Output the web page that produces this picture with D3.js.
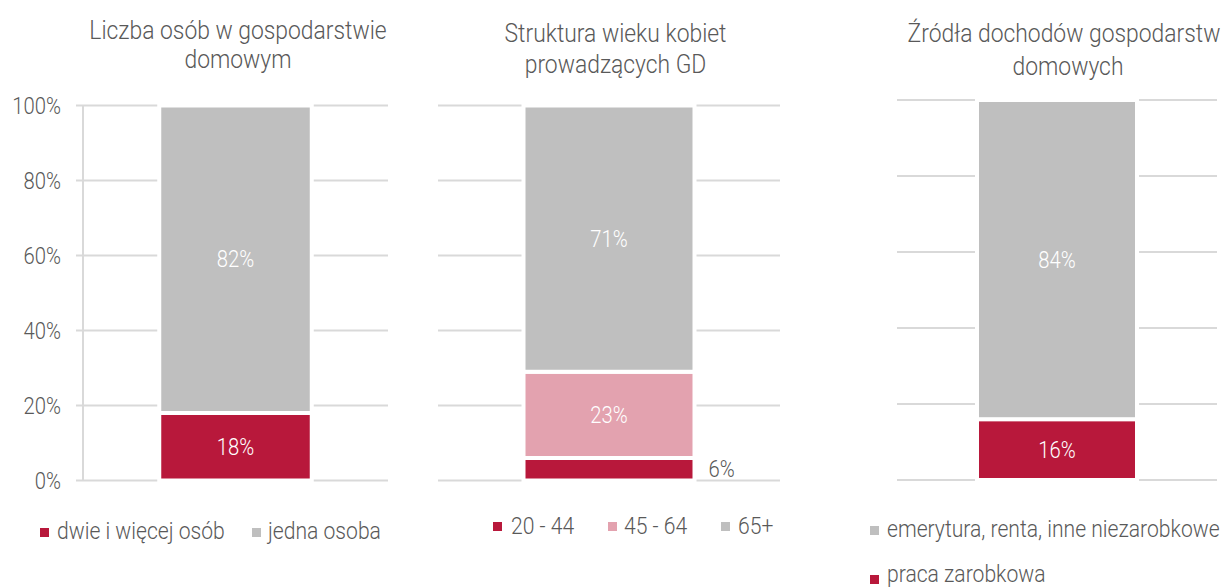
<!DOCTYPE html>
<html>
<head>
<meta charset="utf-8">
<script src="https://cdn.jsdelivr.net/npm/d3@7/dist/d3.min.js"></script>
<style>
  html, body { margin: 0; padding: 0; background: #fff; }
  svg { display: block; }
  text { font-family: Roboto, "Noto Sans", sans-serif; font-weight: 300; }
</style>
</head>
<body>
<svg id="chart" width="1229" height="588"></svg>
<script>
// ---- data ----
const yTicks = [0, 20, 40, 60, 80, 100];

const p1Title = ["Liczba osób w gospodarstwie", "domowym"];
const p1Categories = ["dwie i więcej osób", "jedna osoba"];
const p1Values = [18, 82];

const p2Title = ["Struktura wieku kobiet", "prowadzących GD"];
const p2Categories = ["20 - 44", "45 - 64", "65+"];
const p2Values = [6, 23, 71];

const p3Title = ["Źródła dochodów gospodarstw", "domowych"];
const p3Categories = ["praca zarobkowa", "emerytura, renta, inne niezarobkowe"];
const p3Values = [16, 84];
const p3LegendOrder = ["emerytura, renta, inne niezarobkowe", "praca zarobkowa"];

// ---- style ----
const RED = "#B8183B", PINK = "#E3A2AF", GRAY = "#BFBFBF";
const TEXT = "#595959", GRID = "#D9D9D9";
const SX = 0.88; // condensed look

const svg = d3.select("#chart");

function txt(g, x, y, s, opts) {
  const t = g.append("text")
    .attr("transform", `translate(${x},${y}) scale(${SX},1)`)
    .attr("fill", opts.fill || TEXT)
    .attr("font-size", opts.size)
    .attr("text-anchor", opts.anchor || "start")
    .text(s);
  if (opts.dy) t.attr("dy", opts.dy);
  return t;
}

const panels = [
  { title: p1Title, titleX: [238, 238], titleY: [39.3, 68.3],
    cats: p1Categories, vals: p1Values, colors: [RED, GRAY],
    plot: [83, 388], grid: [76, 388], y0: 480.5, y1: 105.5,
    axis: true,
    labels: [{mode: "in"}, {mode: "in"}],
    legend: { order: p1Categories, items: [
      {sx: 40, sy: 528, tx: 57, ty: 539},
      {sx: 252, sy: 528, tx: 268, ty: 539}] } },
  { title: p2Title, titleX: [615.5, 615.5], titleY: [41.7, 73.3],
    cats: p2Categories, vals: p2Values, colors: [RED, PINK, GRAY],
    plot: [438, 780], grid: [438, 780], y0: 480.5, y1: 105.5,
    axis: false,
    labels: [{mode: "out"}, {mode: "in"}, {mode: "in"}],
    legend: { order: p2Categories, items: [
      {sx: 493, sy: 522, tx: 511, ty: 534},
      {sx: 608, sy: 522, tx: 624, ty: 534},
      {sx: 721, sy: 522, tx: 738, ty: 534}] } },
  { title: p3Title, titleX: [1064, 1068], titleY: [42.3, 75],
    cats: p3Categories, vals: p3Values, colors: [RED, GRAY],
    plot: [897, 1217], grid: [897, 1217], y0: 480, y1: 100,
    axis: false,
    labels: [{mode: "in"}, {mode: "in"}],
    legend: { order: p3LegendOrder, items: [
      {sx: 870, sy: 526, tx: 887, ty: 537},
      {sx: 870, sy: 575, tx: 887, ty: 582}] } }
];

panels.forEach(p => {
  const g = svg.append("g");
  const y = d3.scaleLinear().domain([0, 100]).range([p.y0, p.y1]);
  const x = d3.scaleBand().domain(["all"]).range(p.plot).paddingInner(0).paddingOuter(0.5);

  // titles
  p.title.forEach((line, i) => txt(g, p.titleX[i], p.titleY[i], line, {size: 26, anchor: "middle"}));

  // gridlines
  g.selectAll("line.grid").data(yTicks).join("line")
    .attr("class", "grid")
    .attr("x1", p.grid[0]).attr("x2", p.grid[1])
    .attr("y1", d => y(d)).attr("y2", d => y(d))
    .attr("stroke", GRID).attr("stroke-width", 2);

  if (p.axis) {
    g.append("line")
      .attr("x1", p.plot[0]).attr("x2", p.plot[0])
      .attr("y1", y(0)).attr("y2", y(100))
      .attr("stroke", GRID).attr("stroke-width", 2);
    yTicks.forEach(t => txt(g, 61, y(t), t + "%", {size: 23, anchor: "end", dy: "0.35em"}));
  }

  // stacked segments
  const row = {}; p.cats.forEach((c, i) => row[c] = p.vals[i]);
  const stack = d3.stack().keys(p.cats)([row]);
  const color = d3.scaleOrdinal().domain(p.cats).range(p.colors);

  stack.forEach((s, i) => {
    const seg = s[0];
    g.append("rect")
      .attr("x", x("all"))
      .attr("width", x.bandwidth())
      .attr("y", y(seg[1]))
      .attr("height", y(seg[0]) - y(seg[1]))
      .attr("fill", color(s.key))
      .attr("stroke", "#fff").attr("stroke-width", 4);
  });
  stack.forEach((s, i) => {
    const seg = s[0];
    const mid = y((seg[0] + seg[1]) / 2);
    const label = p.vals[i] + "%";
    if (p.labels[i].mode === "in") {
      txt(g, x("all") + x.bandwidth() / 2, mid, label, {size: 23, anchor: "middle", fill: "#fff", dy: "0.35em"});
    } else {
      txt(g, x("all") + x.bandwidth() + 14, mid, label, {size: 23, anchor: "start", dy: "0.35em"});
    }
  });

  // legend
  p.legend.order.forEach((c, i) => {
    const it = p.legend.items[i];
    g.append("rect").attr("x", it.sx).attr("y", it.sy).attr("width", 9).attr("height", 9).attr("fill", color(c));
    txt(g, it.tx, it.ty, c, {size: 24});
  });
});
</script>
</body>
</html>
